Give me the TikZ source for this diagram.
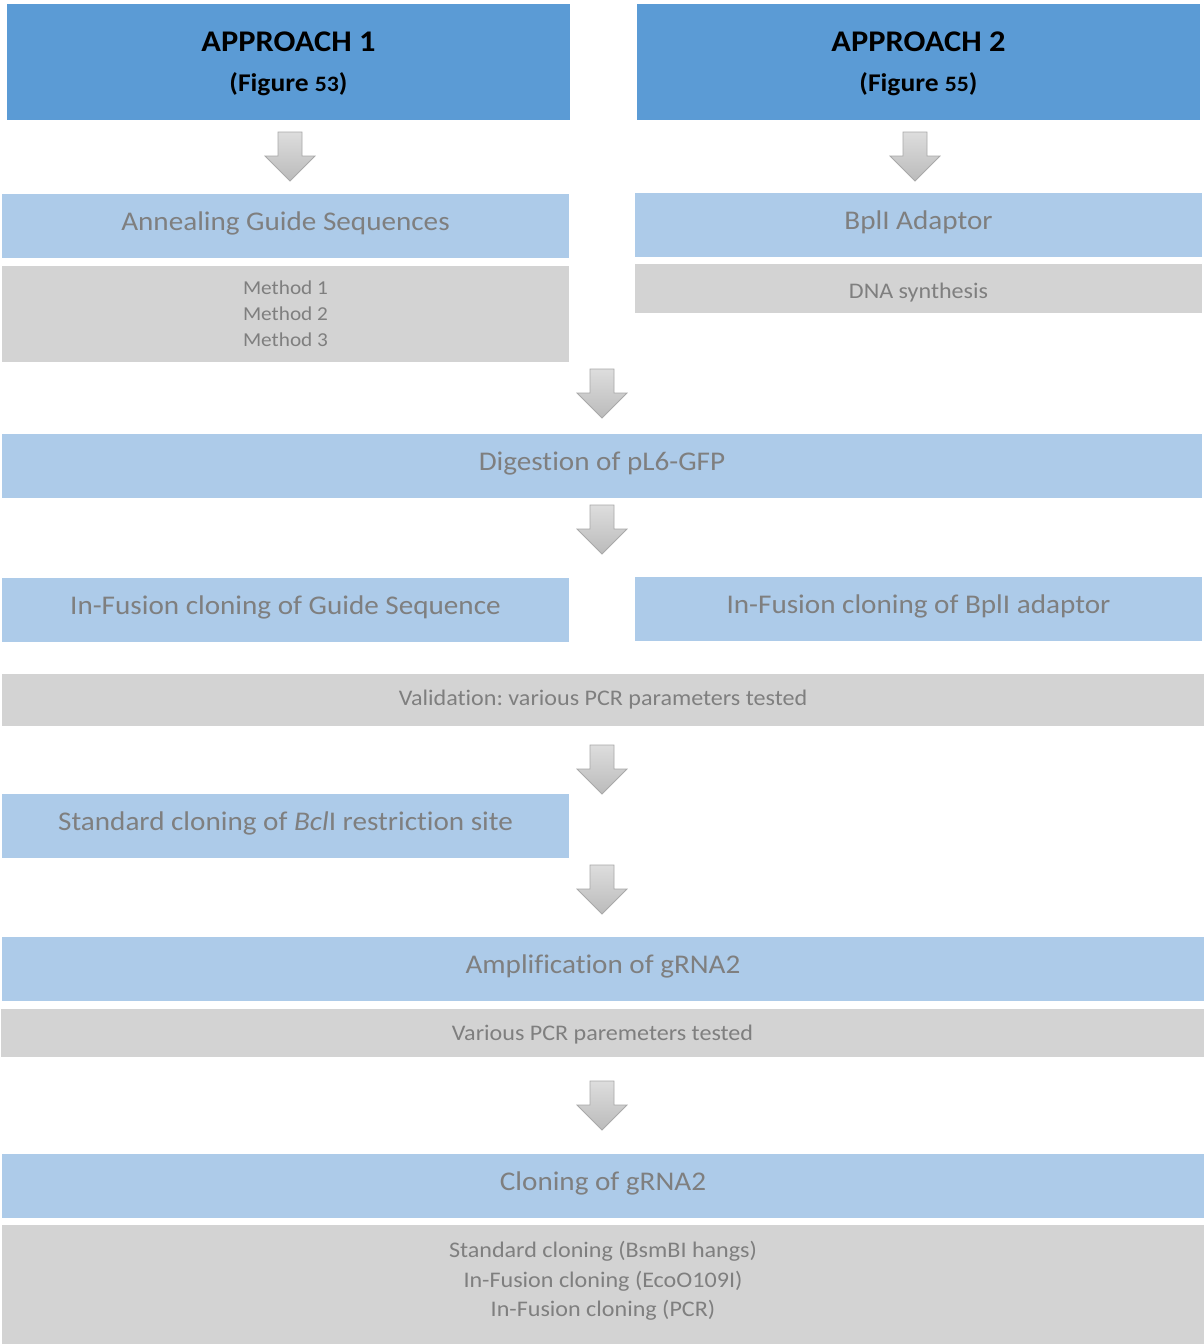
\documentclass[tikz,border=0pt]{standalone}
\usepackage{fontspec}
\setmainfont{Carlito}[FakeStretch=1.08, Ligatures=NoCommon]
\frenchspacing
\definecolor{headblue}{HTML}{5B9BD5}
\definecolor{stepblue}{HTML}{ADCBE9}
\definecolor{notegray}{HTML}{D3D3D3}
\definecolor{txtgray}{HTML}{7F7F7F}
\definecolor{arrowedge}{HTML}{A9A9A9}
\definecolor{arrowtop}{HTML}{DDDDDD}
\definecolor{arrowbot}{HTML}{BBBBBB}
% block arrow pointing down: #1 = centre x, #2 = top y
\newcommand\blockdown[2]{%
  \draw[blockarrow] (#1-12,#2) -- (#1+12,#2) -- (#1+12,#2+24) -- (#1+25,#2+24)
    -- (#1,#2+49) -- (#1-25,#2+24) -- (#1-12,#2+24) -- cycle;}
\begin{document}
\begin{tikzpicture}[x=1pt,y=-1pt,
  headbox/.style={fill=headblue, draw=none, inner sep=0pt, text=black, align=center,
    font=\bfseries\fontsize{30}{41}\selectfont},
  stepbox/.style={fill=stepblue, draw=none, inner sep=0pt, text=txtgray, align=center,
    font=\fontsize{27}{31}\selectfont, text height=19pt, text depth=10pt},
  notebox/.style={fill=notegray, draw=none, inner sep=0pt, text=txtgray, align=center,
    font=\fontsize{22.3}{26}\selectfont},
]
\tikzset{blockarrow/.style={draw=arrowedge, line width=0.8pt, top color=arrowtop, bottom color=arrowbot}}
\useasboundingbox[fill=white] (0,0) rectangle (1204,1344);

% approach headers
\node[headbox, minimum width=563pt, minimum height=116pt, text depth=0pt] (ap1) at (288.5,61.5)
  {APPROACH 1\\[-1pt]{\fontsize{25.5}{28}\selectfont (Figure {\fontsize{22}{22}\selectfont 53})}};
\node[headbox, minimum width=563pt, minimum height=116pt, text depth=0pt] (ap2) at (918.5,61.5)
  {APPROACH 2\\[-1pt]{\fontsize{25.5}{28}\selectfont (Figure {\fontsize{22}{22}\selectfont 55})}};

% approach 1 branch
\node[stepbox, minimum width=567pt, minimum height=64pt] (anneal) at (285.5,226) {Annealing Guide Sequences};
\node[notebox, minimum width=567pt, minimum height=96pt, font=\fontsize{19.7}{26}\selectfont] (methods) at (285.5,313.5)
  {Method 1\\Method 2\\Method 3};

% approach 2 branch
\node[stepbox, minimum width=567pt, minimum height=64pt] (bpl) at (918.5,225) {BplI Adaptor};
\node[notebox, minimum width=567pt, minimum height=49pt, text height=20pt, text depth=0pt] (dna) at (918.5,288.5) {DNA synthesis};

% shared steps
\node[stepbox, minimum width=1200pt, minimum height=64pt] (digest) at (602,466) {Digestion of pL6-GFP};
\node[stepbox, minimum width=567pt, minimum height=64pt] (ifguide) at (285.5,610) {In-Fusion cloning of Guide Sequence};
\node[stepbox, minimum width=567pt, minimum height=64pt] (ifbpl) at (918.5,609) {In-Fusion cloning of BplI adaptor};
\node[notebox, minimum width=1202pt, minimum height=52pt] (valid) at (603,700) {Validation: various PCR parameters tested};
\node[stepbox, minimum width=567pt, minimum height=64pt] (bcl) at (285.5,826) {Standard cloning of \textit{Bcl}I restriction site};
\node[stepbox, minimum width=1202pt, minimum height=64pt] (amp) at (603,969) {Amplification of gRNA2};
\node[notebox, minimum width=1203pt, minimum height=48pt, text depth=0pt] (pcr) at (602.5,1033) {Various PCR paremeters tested};
\node[stepbox, minimum width=1202pt, minimum height=64pt] (clone) at (603,1186) {Cloning of gRNA2};
\node[notebox, minimum width=1202pt, minimum height=119pt, text depth=11pt, font=\fontsize{22.3}{29.5}\selectfont] (final) at (603,1284.5)
  {Standard cloning (BsmBI hangs)\\In-Fusion cloning (EcoO109I)\\In-Fusion cloning (PCR)};

% block arrows between stages
\blockdown{290}{132}
\blockdown{915}{132}
\blockdown{602}{369}
\blockdown{602}{505}
\blockdown{602}{745}
\blockdown{602}{865}
\blockdown{602}{1081}
\end{tikzpicture}
\end{document}
